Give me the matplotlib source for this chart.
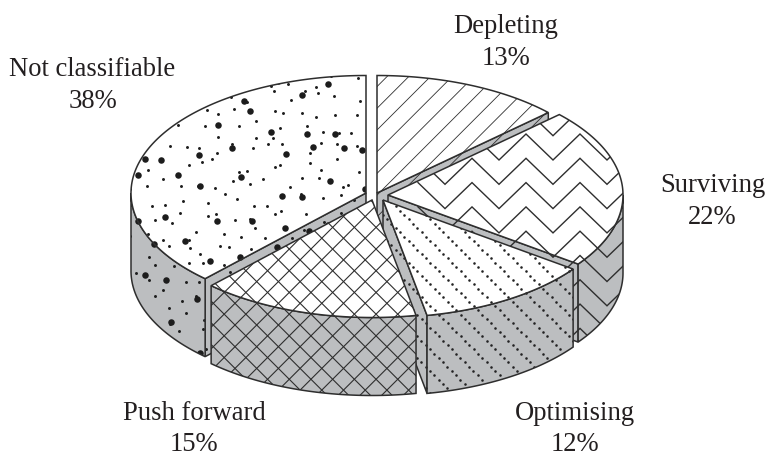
import numpy as np
import matplotlib
matplotlib.use('Agg')
import matplotlib.pyplot as plt
from matplotlib.patches import Polygon

labels = ['Depleting', 'Surviving', 'Optimising', 'Push forward', 'Not classifiable']
shares = [13, 22, 12, 15, 38]
patterns = ['diagonal', 'zigzag', 'dotted', 'cross', 'stipple']

# where each exploded slice has its tip, in pixels of the 766x457 figure
tips = [(377, 193), (388, 195), (383, 200), (372, 200), (366, 193)]
# centre x, baseline of the name, baseline of the percentage
label_pos = [(506, 33, 65), (712.5, 192, 224), (575, 420, 451), (194, 420, 451), (92.5, 76, 108)]

RX, RY, DEPTH = 235, 117.5, 78
EDGE = '#2e2e2e'
GREY = '#bcbec0'
STEP = 21.7

plt.rcParams['font.family'] = ['Liberation Serif']

fig = plt.figure(figsize=(7.66, 4.57), dpi=100)
ax = fig.add_axes([0, 0, 1, 1])
ax.set_xlim(0, 766)
ax.set_ylim(457, 0)
ax.axis('off')

z = [1]


def next_z():
    z[0] += 1
    return z[0]


def rim(tip, a0, a1):
    # angles are clockwise from twelve o'clock
    t = np.radians(np.linspace(a0, a1, max(2, int(abs(a1 - a0) * 2))))
    return np.column_stack([tip[0] + RX * np.sin(t), tip[1] - RY * np.cos(t)])


def clipped_lines(patch, xs, ys, lw):
    line, = ax.plot(xs, ys, color=EDGE, lw=lw, zorder=next_z(), solid_joinstyle='miter')
    line.set_clip_path(patch)


def hash01(i, j, salt):
    return (np.sin(i * 127.1 + j * 311.7 + salt) * 43758.5453) % 1


def stipple_dots(cell, salt):
    # one dot somewhere in each cell, keeps the speckle even without clumps
    px, py = [], []
    for i in range(int(250 / cell) + 1):
        for j in range(int(295 / cell) + 1):
            px.append(125 + (i + 0.1 + 0.8 * hash01(i, j, salt)) * cell)
            py.append(72 + (j + 0.1 + 0.8 * hash01(i, j, salt + 5.1)) * cell)
    return px, py


def fill_pattern(patch, kind):
    if kind == 'diagonal':
        for k in range(-12, 24):
            c = 507 + k * STEP
            clipped_lines(patch, [c - 457, c], [457, 0], 0.6)
    elif kind == 'cross':
        for k in range(-30, 30):
            c = 516.6 + k * STEP
            d = -90 + k * STEP
            clipped_lines(patch, [c - 457, c], [457, 0], 0.8)
            clipped_lines(patch, [d, d + 457], [0, 457], 0.8)
    elif kind == 'zigzag':
        for k in range(-8, 14):
            y0 = 134 + k * 24.3
            xs = 526 + np.arange(-4, 8) * 27.0
            ys = y0 + np.where(np.arange(-4, 8) % 2 == 0, 0, 26)
            clipped_lines(patch, xs, ys, 1.0)
    elif kind == 'dotted':
        px, py = [], []
        for k in range(-8, 12):
            along = np.arange(-20, 60) * 4.33
            px.extend(447.7 + k * STEP + along)
            py.extend(258.3 + along)
        dots = ax.scatter(px, py, s=3.4, color='#222222', lw=0, zorder=next_z())
        dots.set_clip_path(patch)
    elif kind == 'stipple':
        for cell, size, salt in [(17, 4.5, 0.3), (33, 22, 2.7)]:
            px, py = stipple_dots(cell, salt)
            dots = ax.scatter(px, py, s=size, color='#1c1c1c', lw=0, zorder=next_z())
            dots.set_clip_path(patch)


def piece(points, colour, kind):
    patch = Polygon(points, closed=True, fc=colour, ec='none', zorder=next_z())
    ax.add_patch(patch)
    fill_pattern(patch, kind)
    ax.add_patch(Polygon(points, closed=True, fc='none', ec=EDGE, lw=1.1, zorder=next_z(), joinstyle='miter'))


def cut_face(tip, angle, kind):
    end = rim(tip, angle, angle + 1)[0]
    pts = [tip, end, (end[0], end[1] + DEPTH), (tip[0], tip[1] + DEPTH)]
    piece(pts, GREY, kind)


def draw_slice(i, start, stop):
    tip = tips[i]
    kind = patterns[i]
    # only cut faces turned towards the viewer show
    if 0 < stop < 180:
        cut_face(tip, stop, kind)
    if 180 < start < 360:
        cut_face(tip, start, kind)
    # outer wall, only the front half of the rim shows
    w0, w1 = max(start, 90), min(stop, 270)
    if w1 > w0:
        top = rim(tip, w0, w1)
        wall = np.vstack([top, top[::-1] + [0, DEPTH]])
        piece(wall, GREY, kind)
    points = np.vstack([[tip], rim(tip, start, stop)])
    piece(points, 'white', kind)


edges = np.cumsum([0] + shares) * 3.6
# painted far to near so that the closer slices cover the cut faces behind them
for i in [0, 4, 1, 2, 3]:
    draw_slice(i, edges[i], edges[i + 1])

for name, share, (x, y1, y2) in zip(labels, shares, label_pos):
    ax.text(x, y1, name, ha='center', va='baseline', fontsize=19.15, color='#231f20', zorder=next_z())
    ax.text(x, y2, f'{share}%', ha='center', va='baseline', fontsize=19.15, color='#231f20', zorder=next_z())

fig.savefig('out.png', dpi=100)
